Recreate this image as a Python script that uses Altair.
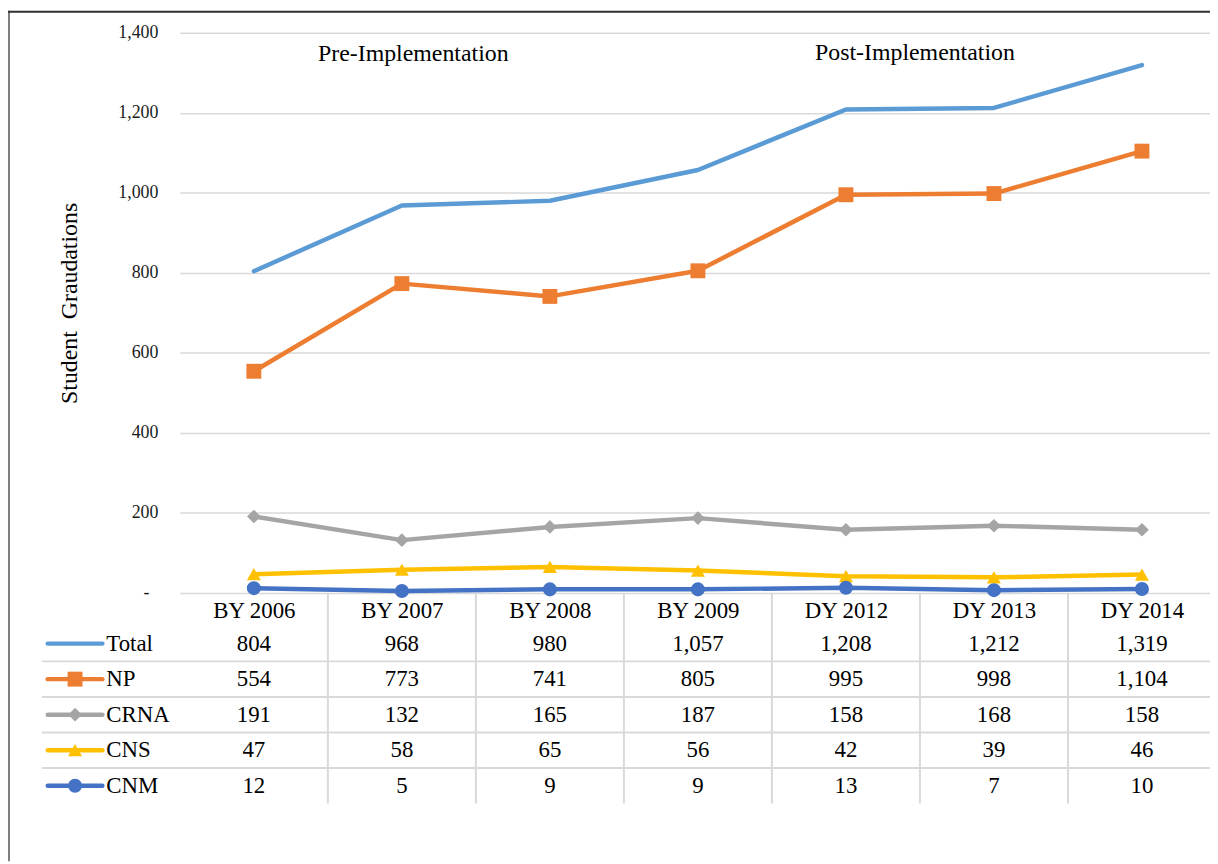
import json
import altair as alt
import pandas as pd

# ---------------- data ----------------
years = ["BY 2006", "BY 2007", "BY 2008", "BY 2009", "DY 2012", "DY 2013", "DY 2014"]
series = ["Total", "NP", "CRNA", "CNS", "CNM"]
total = [804, 968, 980, 1057, 1208, 1212, 1319]
np_vals = [554, 773, 741, 805, 995, 998, 1104]
crna = [191, 132, 165, 187, 158, 168, 158]
cns = [47, 58, 65, 56, 42, 39, 46]
cnm = [12, 5, 9, 9, 13, 7, 10]
y_ticks = [0, 200, 400, 600, 800, 1000, 1200, 1400]
annotations = ["Pre-Implementation", "Post-Implementation"]
y_title = "Student \u00a0Graudations"

# ---------------- styles ----------------
colors = ["#5B9BD5", "#ED7D31", "#A5A5A5", "#FFC000", "#4472C4"]
shapes = [None, "square", "diamond", "triangle-up", "circle"]
sizes = [0, 225, 190, 200, 200]
ann_pos = [(235, 22), (740, 20)]
FONT = "Liberation Serif"
GRID = "#D9D9D9"
LW = 4.5

values = [total, np_vals, crna, cns, cnm]
rows = []
for si, (s, vals) in enumerate(zip(series, values)):
    for i, (yr, v) in enumerate(zip(years, vals)):
        rows.append({"idx": i, "year": yr, "series": s, "value": v,
                     "row": si + 1, "label": f"{v:,}"})
df = pd.DataFrame(rows)
leg = pd.DataFrame({"series": series, "row": list(range(1, len(series) + 1))})

W, H = 1037, 564
BAND = 149
xs = alt.Scale(domain=[-0.5, -0.5 + W / BAND], nice=False, zero=False)
ys = alt.Scale(domain=[0, 1400], nice=False, zero=True)
rs = alt.Scale(domain=[1, 5], range=[615, 758], nice=False, zero=False)
cs = alt.Scale(domain=series, range=colors)

x_axis = alt.Axis(
    values=list(range(len(years))),
    labelExpr=json.dumps(years) + "[datum.value]",
    labelFont=FONT, labelFontSize=23, labelColor="#000000",
    labelBaseline="middle", labelPadding=18, labelAngle=0,
    domain=False, ticks=False, grid=False, title=None,
)
y_axis = alt.Axis(
    values=y_ticks, grid=True, gridColor=GRID, gridWidth=1.5,
    domain=False, ticks=False,
    labelExpr="datum.value === 0 ? '-' : format(datum.value, ',')",
    labelFont=FONT, labelFontSize=18, labelColor="#1a1a1a",
    labelPadding={"condition": {"test": "datum.value === 0", "value": 31}, "value": 22},
    title=y_title, titleFont=FONT, titleFontSize=24, titleFontWeight="normal",
    titleColor="#000000", titleAngle=270, titleX=-111, titleY=272,
    titleAlign="center", titleBaseline="middle",
)

X = alt.X("idx:Q", scale=xs, axis=x_axis)
Y = alt.Y("value:Q", scale=ys, axis=y_axis)
C = alt.Color("series:N", scale=cs, legend=None)

main_layers = [
    alt.Chart(df).mark_line(strokeWidth=LW, strokeCap="round", strokeJoin="round").encode(
        x=X, y=Y, color=C, order="idx:Q"
    )
]
for s, shp, sz in zip(series, shapes, sizes):
    if shp is None:
        continue
    main_layers.append(
        alt.Chart(df[df.series == s]).mark_point(
            filled=True, opacity=1, strokeWidth=0, shape=shp, size=sz
        ).encode(x=X, y=Y, color=C)
    )
for t, (px, py) in zip(annotations, ann_pos):
    main_layers.append(
        alt.Chart(pd.DataFrame({"t": [t]})).mark_text(
            font=FONT, fontSize=24, color="#000000", align="center", baseline="middle"
        ).encode(x=alt.value(px), y=alt.value(py), text="t:N")
    )
main = alt.layer(*main_layers)

# ---------------- data table ----------------
RY = alt.Y("row:Q", scale=rs, axis=None)
hsep = alt.Chart(pd.DataFrame({"r": [1.5, 2.5, 3.5, 4.5]})).mark_rule(
    color=GRID, strokeWidth=2
).encode(x=alt.value(-139), x2=alt.value(W), y=alt.Y("r:Q", scale=rs, axis=None))
vsep = alt.Chart(pd.DataFrame({"c": [0.5, 1.5, 2.5, 3.5, 4.5, 5.5], "y0": -0.43, "y1": 5.5})).mark_rule(
    color=GRID, strokeWidth=2
).encode(x=alt.X("c:Q", scale=xs, axis=x_axis), y=alt.Y("y0:Q", scale=rs, axis=None), y2="y1:Q")
cells = alt.Chart(df).mark_text(font=FONT, fontSize=23, color="#000000", baseline="middle").encode(
    x=X, y=RY, text="label:N"
)
table_layers = [hsep, vsep, cells]
table_layers.append(
    alt.Chart(leg).mark_rule(strokeWidth=LW, strokeCap="round").encode(
        x=alt.value(-133), x2=alt.value(-78), y=RY, color=C
    )
)
for s, shp, sz in zip(series, shapes, sizes):
    if shp is None:
        continue
    table_layers.append(
        alt.Chart(leg[leg.series == s]).mark_point(
            filled=True, opacity=1, strokeWidth=0, shape=shp, size=sz
        ).encode(x=alt.value(-105.5), y=RY, color=C)
    )
table_layers.append(
    alt.Chart(leg).mark_text(font=FONT, fontSize=23, color="#000000", align="left", baseline="middle").encode(
        x=alt.value(-74), y=RY, text="series:N"
    )
)
table_layers.append(
    alt.Chart(leg.head(1)).mark_rule(color="#7F7F7F", strokeWidth=2).encode(
        x=alt.value(-172), y=alt.value(-22), y2=alt.value(H + 270)
    )
)
table_layers.append(
    alt.Chart(leg.head(1)).mark_rule(color="#303030", strokeWidth=2).encode(
        x=alt.value(-173), x2=alt.value(W), y=alt.value(-21)
    )
)
table = alt.layer(*table_layers)

chart = alt.layer(table, main).resolve_scale(y="independent").properties(
    width=W, height=H,
    autosize=alt.AutoSizeParams(type="none"),
    padding={"left": 173, "top": 22, "right": 0, "bottom": 270},
    background="white",
).configure_view(stroke=None)

chart.save("out.html", embed_options={"renderer": "svg", "actions": False})
